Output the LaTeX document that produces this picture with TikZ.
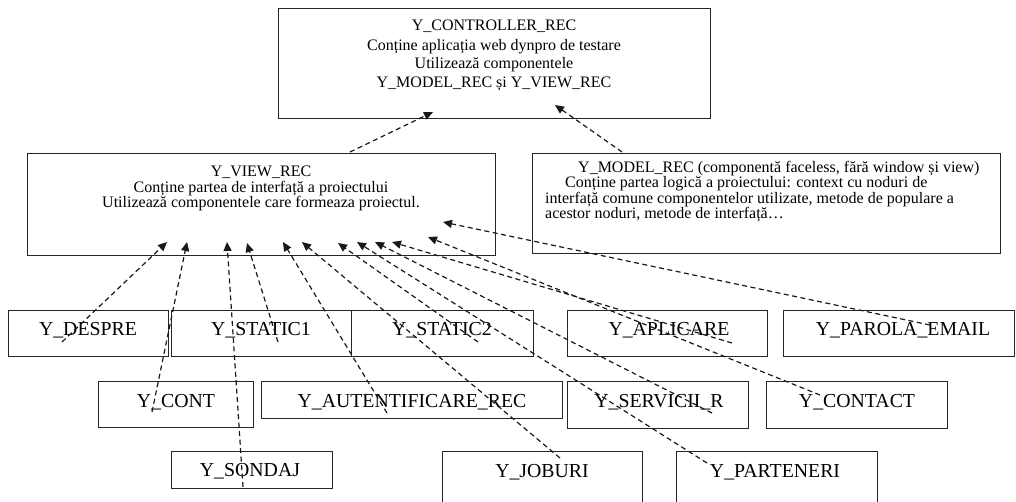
\documentclass[tikz,border=0pt]{standalone}
\usepackage{fontspec}
\setmainfont{Liberation Serif}
\usetikzlibrary{arrows.meta}
\begin{document}
\begin{tikzpicture}[x=1pt,y=-1pt,
  box/.style={draw=black!85, line width=1pt, rectangle, inner sep=0pt},
  body/.style={font=\fontsize{16}{18}\selectfont, inner sep=0pt, anchor=base},
  bodyw/.style={font=\fontsize{16}{18}\selectfont, inner sep=0pt, anchor=base west},
  lbl/.style={font=\fontsize{19.8}{22}\selectfont, inner sep=0pt, anchor=base},
  dep/.style={draw=black!90, line width=1.2pt, dash pattern=on 5pt off 3.5pt,
              -{Triangle[length=9pt,width=8pt]}}]
\clip (0,0) rectangle (1016,501);
\fill[white] (0,0) rectangle (1016,501);

% main boxes
\node[box, minimum width=432pt, minimum height=110pt] (ctrl) at (494,63) {};
\node[box, minimum width=468pt, minimum height=102pt] (view) at (261,204) {};
\node[box, minimum width=468pt, minimum height=100pt] (model) at (766,203) {};

\node[body] (ct1) at (494,30) {Y\_CONTROLLER\_REC};
\node[body] (ct2) at (494,50) {Conține aplicația web dynpro de testare};
\node[body] (ct3) at (494,68) {Utilizează componentele};
\node[body] (ct4) at (494,87) {Y\_MODEL\_REC și Y\_VIEW\_REC};

\node[body] (vt1) at (261,176) {Y\_VIEW\_REC};
\node[body] (vt2) at (261,192) {Conține partea de interfață a proiectului};
\node[body] (vt3) at (261,207) {Utilizează componentele care formeaza proiectul.};

\node[bodyw] (mt1) at (578,172) {Y\_MODEL\_REC (componentă faceless, fără window și view)};
\node[bodyw] (mt2) at (565,187) {Conține partea logică a proiectului: context cu noduri de};
\node[bodyw] (mt3) at (545,203) {interfață comune componentelor utilizate, metode de populare a};
\node[bodyw] (mt4) at (545,218) {acestor noduri, metode de interfață…};

% component boxes
\node[box, minimum width=160pt, minimum height=46pt] (despre) at (88,333) {};
\node[box, minimum width=180pt, minimum height=46pt] (static1) at (261,333) {};
\node[box, minimum width=182pt, minimum height=46pt] (static2) at (442,333) {};
\node[box, minimum width=200pt, minimum height=46pt] (aplicare) at (667,333) {};
\node[box, minimum width=231pt, minimum height=46pt] (parola) at (898.5,333) {};
\node[box, minimum width=155pt, minimum height=46pt] (cont) at (175.5,404) {};
\node[box, minimum width=301pt, minimum height=37pt] (aut) at (411.5,399.5) {};
\node[box, minimum width=181pt, minimum height=47pt] (serv) at (657.5,404.5) {};
\node[box, minimum width=181pt, minimum height=47pt] (contact) at (856.5,404.5) {};
\node[box, minimum width=161pt, minimum height=37pt] (sondaj) at (251.5,469.5) {};
\node[box, minimum width=200pt, minimum height=69pt] (joburi) at (542,485.5) {};
\node[box, minimum width=201pt, minimum height=69pt] (parteneri) at (776.5,485.5) {};

\node[lbl] (ldespre) at (88,335) {Y\_DESPRE};
\node[lbl] (lstatic1) at (261,335) {Y\_STATIC1};
\node[lbl] (lstatic2) at (442,335) {Y\_STATIC2};
\node[lbl] (laplicare) at (669,335) {Y\_APLICARE};
\node[lbl] (lparola) at (903,335) {Y\_PAROLA\_EMAIL};
\node[lbl] (lcont) at (176,407) {Y\_CONT};
\node[lbl] (laut) at (412,407) {Y\_AUTENTIFICARE\_REC};
\node[lbl] (lserv) at (659,407) {Y\_SERVICII\_R};
\node[lbl] (lcontact) at (857,407) {Y\_CONTACT};
\node[lbl] (lsondaj) at (250,476) {Y\_SONDAJ};
\node[lbl] (ljoburi) at (542,477) {Y\_JOBURI};
\node[lbl] (lparteneri) at (775,477) {Y\_PARTENERI};

% connector end points
\coordinate (tView) at (350,152);   \coordinate (hView) at (433,112);
\coordinate (tModel) at (622,152);  \coordinate (hModel) at (555,105);
\coordinate (tDespre) at (62,342);  \coordinate (hDespre) at (167,242);
\coordinate (tCont) at (152,412);   \coordinate (hCont) at (187,242);
\coordinate (tSondaj) at (243,487); \coordinate (hSondaj) at (227,242);
\coordinate (tStatic1) at (278,342);\coordinate (hStatic1) at (247,243);
\coordinate (tAut) at (387,413);    \coordinate (hAut) at (283,242);
\coordinate (tJob) at (560,458);    \coordinate (hJob) at (302,242);
\coordinate (tStatic2) at (478,342);\coordinate (hStatic2) at (338,243);
\coordinate (tPart) at (707,463);   \coordinate (hPart) at (357,242);
\coordinate (tServ) at (712,413);   \coordinate (hServ) at (375,242);
\coordinate (tApl) at (732,343);    \coordinate (hApl) at (392,242);
\coordinate (tContact) at (820,395);\coordinate (hContact) at (428,237);
\coordinate (tParola) at (930,325); \coordinate (hParola) at (443,222);

\draw[dep] (tView) -- (hView);
\draw[dep] (tModel) -- (hModel);
\draw[dep] (tDespre) -- (hDespre);
\draw[dep] (tCont) -- (hCont);
\draw[dep] (tSondaj) -- (hSondaj);
\draw[dep] (tStatic1) -- (hStatic1);
\draw[dep] (tAut) -- (hAut);
\draw[dep] (tJob) -- (hJob);
\draw[dep] (tStatic2) -- (hStatic2);
\draw[dep] (tPart) -- (hPart);
\draw[dep] (tServ) -- (hServ);
\draw[dep] (tApl) -- (hApl);
\draw[dep] (tContact) -- (hContact);
\draw[dep] (tParola) -- (hParola);
\end{tikzpicture}
\end{document}
